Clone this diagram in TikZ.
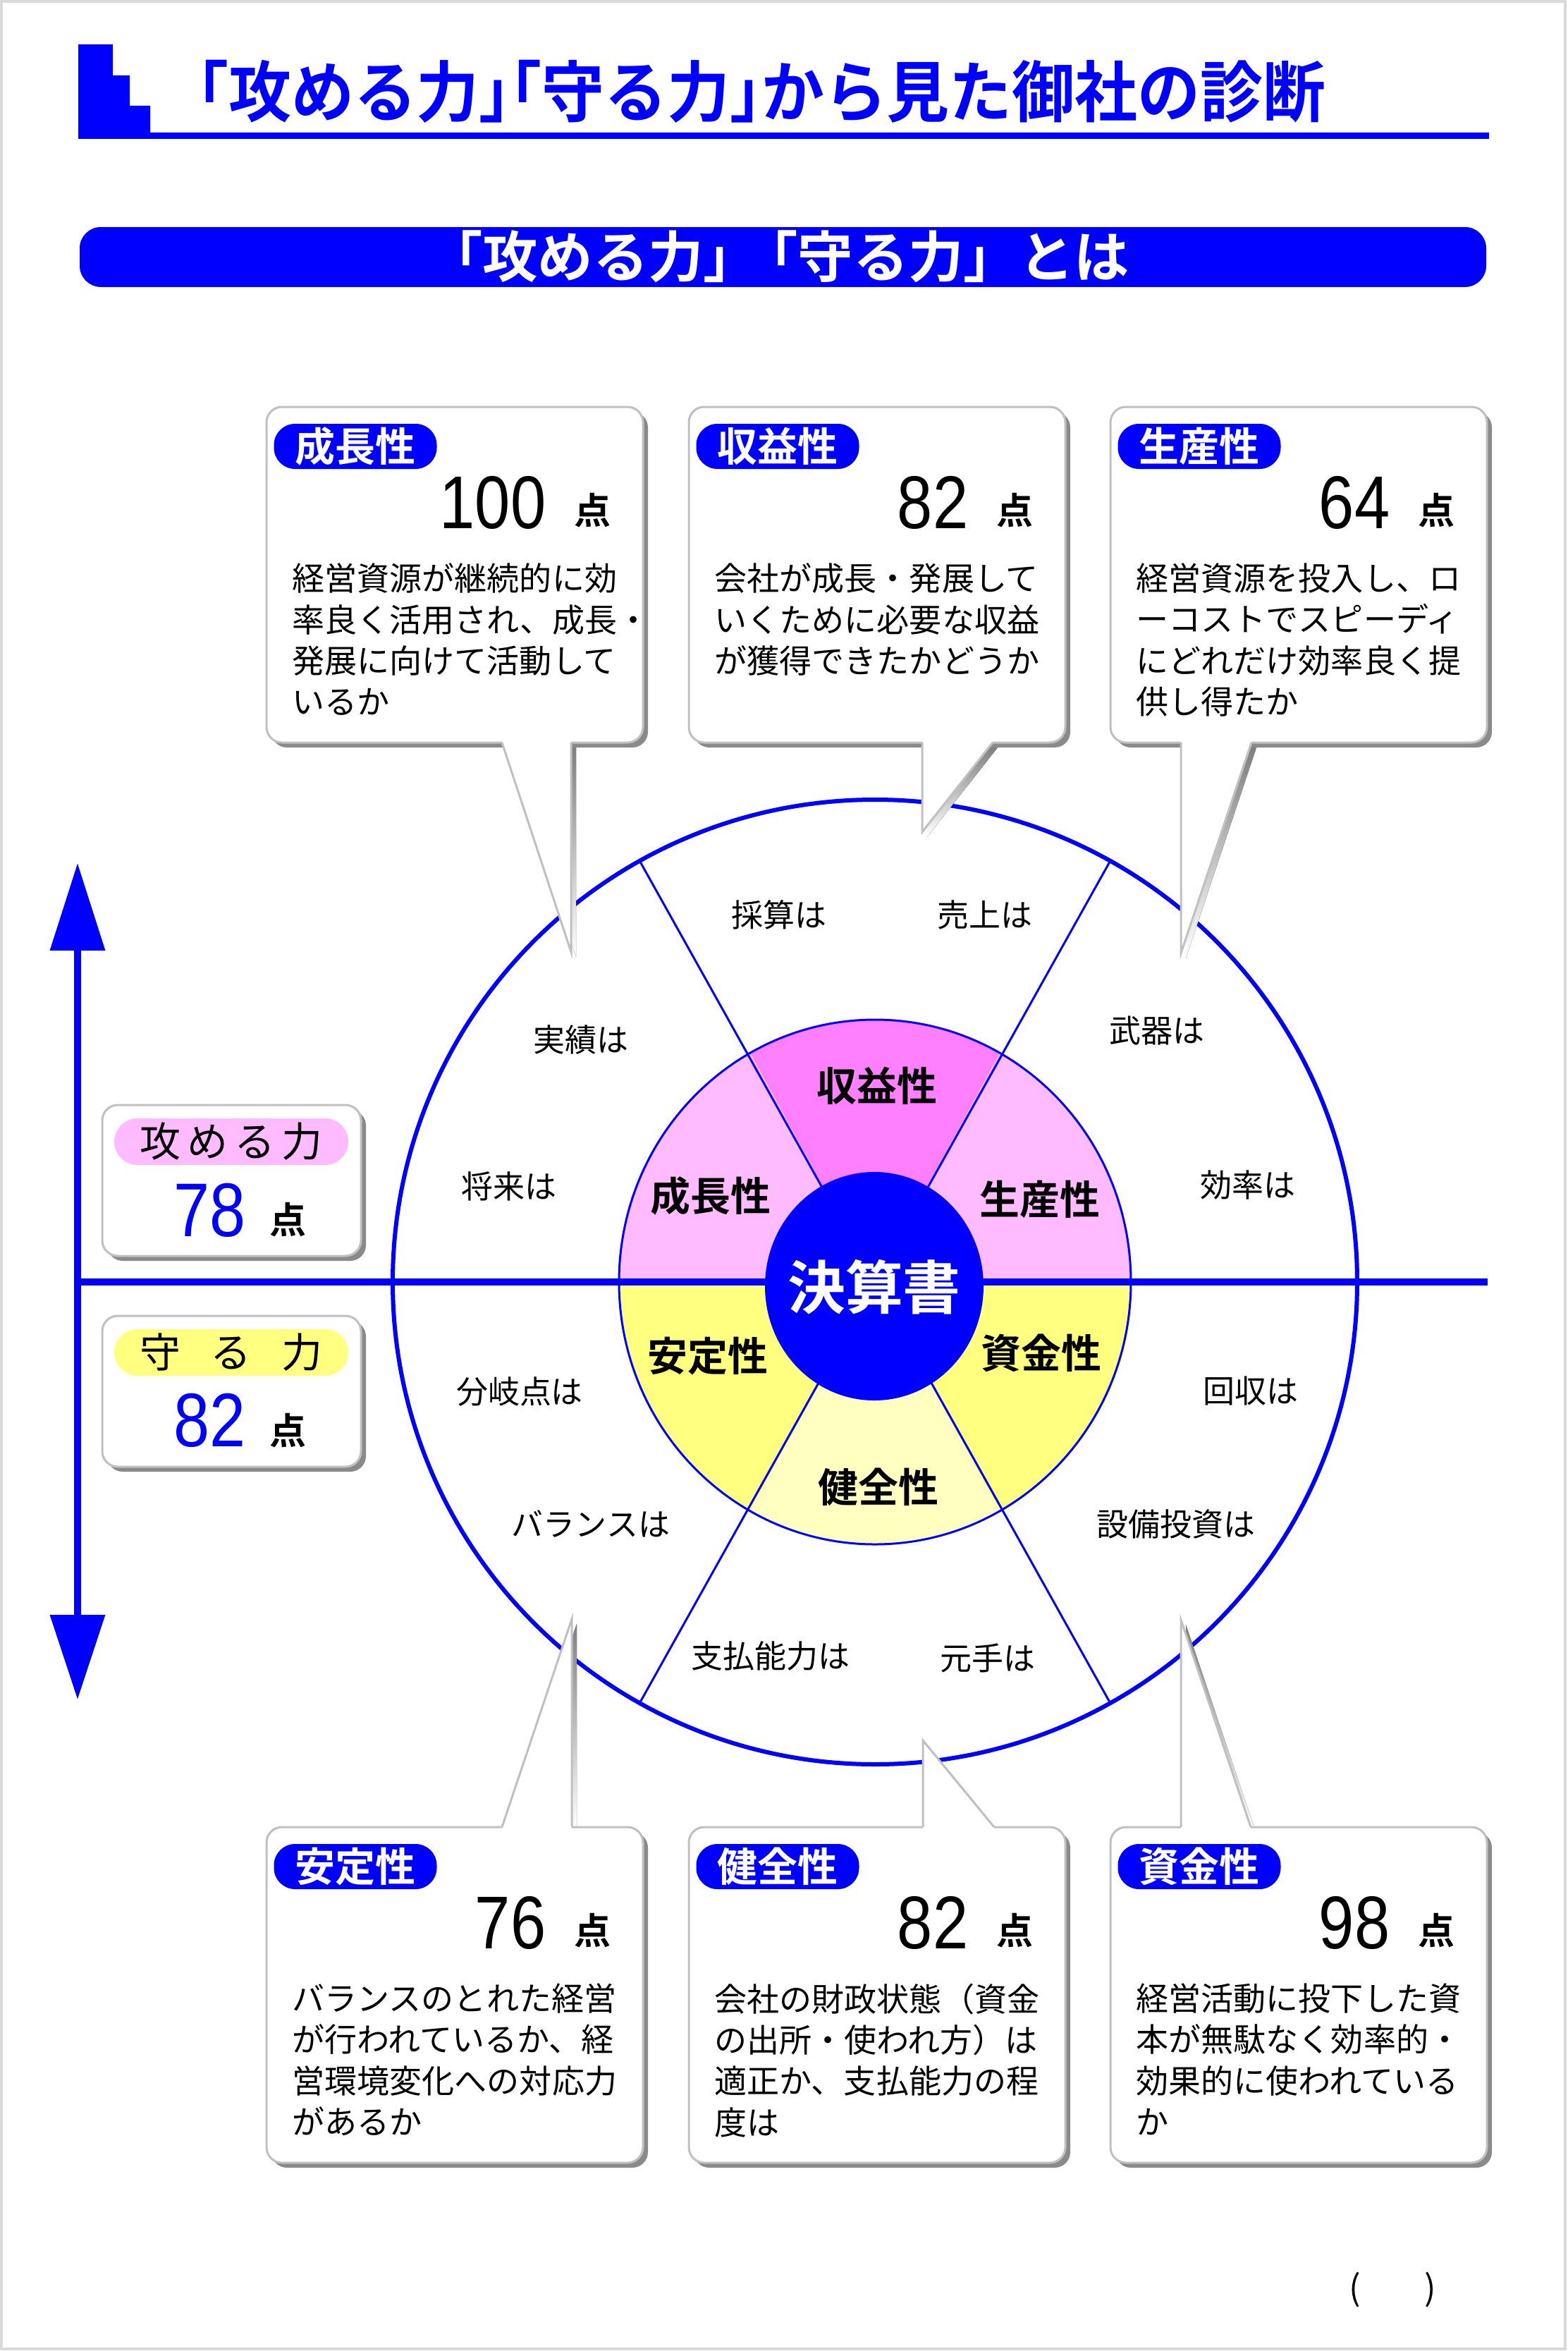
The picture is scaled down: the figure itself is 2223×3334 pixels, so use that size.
\documentclass[tikz,border=0pt]{standalone}
\usepackage{fontspec}
\usepackage{graphicx}
\setmainfont{Noto Sans CJK JP}[BoldFont={Noto Sans CJK JP Bold}]
\newfontfamily\numfont{Liberation Sans}
\usetikzlibrary{arrows.meta}
\definecolor{pureblue}{HTML}{0000FF}
\definecolor{rosepink}{HTML}{FFBBFF}
\definecolor{magentapink}{HTML}{FF80FF}
\definecolor{lemon}{HTML}{FFFF80}
\definecolor{cream}{HTML}{FFFFC0}
\definecolor{shade}{HTML}{8A8A8A}
\definecolor{rim}{HTML}{C0C0C0}
\definecolor{pageline}{HTML}{D9D9D9}
\newcommand{\fsz}[2]{\fontsize{#1pt}{#2pt}\selectfont}
\newcommand{\narrow}[1]{\scalebox{0.85}[1]{#1}}
\newcommand{\lbr}{\makebox[0.5em][r]{「}}
\newcommand{\rbr}{\makebox[0.5em][l]{」}}

\begin{document}
\begin{tikzpicture}[
    x=0.1mm, y=-0.1mm,
    ringlab/.style={font=\bfseries\fsz{16.2}{16.2}, inner sep=0pt},
    outerlab/.style={font=\fsz{12.8}{12.8}, inner sep=0pt},
    pill/.style={fill=pureblue, text=white, rounded corners=3mm, minimum width=23.1mm,
                 minimum height=6.4mm, inner sep=0pt, font=\bfseries\fsz{16.2}{16.2}},
    score/.style={font=\numfont\fsz{30.2}{30.2}, inner sep=0pt},
    unit/.style={font=\bfseries\fsz{14.8}{14.8}, inner sep=0pt},
    desc/.style={font=\fsz{13.1}{16.6}, align=left, inner sep=0pt},
    sidepill/.style={rounded corners=3.3mm, minimum width=33.2mm, minimum height=6.6mm,
                     inner sep=0pt, font=\fsz{16.5}{16.5}},
    sidenum/.style={font=\numfont\fsz{30.7}{30.7}, text=pureblue, inner sep=0pt},
    boxshade/.style={fill=shade, rounded corners=2.2mm},
    boxbody/.style={draw=rim, line width=0.3mm, fill=white, rounded corners=2.2mm},
    sector line/.style={pureblue, line width=0.3mm}]
  % page of 2223 x 3334 px, y runs downward
  \useasboundingbox (0,0) rectangle (2223,3334);
  \draw[pageline, line width=0.4mm] (2,2) rectangle (2220,3331);

  % ================= heading =================
  \fill[pureblue] (111,63) -- (160,63) -- (160,107) -- (184,107) -- (184,150) -- (213,150)
        -- (213,188) -- (2112,188) -- (2112,197) -- (111,197) -- cycle;
  \node[font=\bfseries\fsz{25.3}{25.3}, text=pureblue, inner sep=0pt] (heading) at (1080,130)
    {\scalebox{1}[1.06]{\lbr 攻める力\rbr\lbr 守る力\rbr から見た御社の診断}};
  \fill[pureblue, rounded corners=3mm] (113,322) rectangle (2108,407);
  \node[font=\bfseries\fsz{22.3}{22.3}, text=white, inner sep=0pt] (banner) at (1104,364)
    {「攻める力」\hspace{-2.3mm}「守る力」とは};

  % ================= wheel =================
  \begin{scope}[shift={(1241,1818)}, y=0.1mm]
    \foreach \s/\e/\c in {0/60.8/rosepink, 60.8/119.2/magentapink, 119.2/180/rosepink,
                          180/240.8/lemon, 240.8/299.2/cream, 299.2/360/lemon}
      \fill[\c] (0,0) -- (\s:363 and 372) arc[start angle=\s, end angle=\e, x radius=363, y radius=372] -- cycle;
    \draw[pureblue, line width=0.3mm] (0,0) ellipse[x radius=363, y radius=372];
    \foreach \a in {60.8,119.2,240.8,299.2}
      \draw[sector line] (0,0) -- (\a:684);
    \draw[pureblue, line width=0.6mm] (0,0) circle[radius=684];
  \end{scope}
  % axes
  \draw[pureblue, line width=1mm] (110,1818) -- (2110,1818);
  \draw[pureblue, line width=1mm, {Triangle[length=12.4mm,width=7.6mm]}-{Triangle[length=12mm,width=7.6mm]}]
    (110,1224) -- (110,2410);
  % centre
  \fill[pureblue] (1240,1824) ellipse[x radius=155, y radius=162];
  \node[font=\bfseries\fsz{23.3}{23.3}, text=white, inner sep=0pt] (kessan) at (1240,1825) {決算書};

  \foreach \nm/\x/\y/\t in {shueki/1244/1540/収益性, seicho/1008/1696/成長性, seisan/1475/1701/生産性,
                            antei/1004/1923/安定性, shikin/1477/1919/資金性, kenzen/1246/2109/健全性}
    \node[ringlab] (\nm) at (\x,\y) {\t};

  \foreach \nm/\x/\y/\t in {jisseki/824/1474/実績は, saisan/1105/1297/採算は, uriage/1397/1297/売上は,
                            buki/1641/1462/武器は, shorai/722/1682/将来は, koritsu/1770/1680/効率は,
                            bunki/737/1973/分岐点は, kaishu/1774/1972/回収は, balance/838/2161/バランスは,
                            setsubi/1668/2161/設備投資は, shiharai/1093/2348/支払能力は, motode/1401/2351/元手は}
    \node[outerlab] (\nm) at (\x,\y) {\t};

  % ================= callouts =================
  \foreach \nm/\L/\T/\ta/\tb/\tc/\ti/\lab/\sc/\txt in {
      growth/378/577/{712,1053}/{810,1350}/{810,1053}/-6/成長性/100/{経営資源が継続的に効\\率良く活用され、成長・\\発展に向けて活動して\\いるか},
      profit/977/577/{1308,1053}/{1308,1180}/{1408,1053}/-6/収益性/82/{会社が成長・発展して\\いくために必要な収益\\が獲得できたかどうか},
      output/1575/577/{1675,1053}/{1675,1352}/{1775,1053}/-6/生産性/64/{経営資源を投入し、ロ\\ーコストでスピーディ\\にどれだけ効率良く提\\供し得たか},
      stable/378/2591/{712,2591}/{811,2296}/{811,2591}/6/安定性/76/{バランスのとれた経営\\が行われているか、経\\営環境変化への対応力\\があるか},
      sound/977/2591/{1309,2591}/{1309,2468}/{1410,2591}/6/健全性/82/{会社の財政状態（資金\\の出所・使われ方）は\\適正か、支払能力の程\\度は},
      funds/1575/2591/{1675,2591}/{1675,2297}/{1774,2591}/6/資金性/98/{経営活動に投下した資\\本が無駄なく効率的・\\効果的に使われている\\か}}
  {
    \fill[shade, shift={(7,7)}] (\ta) -- (\tb) -- (\tc) -- cycle;
    \fill[boxshade] (\L+7,\T+7) rectangle ++(534,476);
    \draw[boxbody] (\L,\T) rectangle ++(534,476);
    \fill[white] (\ta) ++(0,\ti) -- (\ta) -- (\tb) -- (\tc) -- ++(0,\ti) -- cycle;
    \draw[rim, line width=0.3mm] (\ta) -- (\tb) -- (\tc);
    \node[pill] (pill-\nm) at (\L+126,\T+56) {\lab};
    \node[score, anchor=base east] (score-\nm) at (\L+397,\T+172) {\narrow{\sc}};
    \node[unit, anchor=base] (unit-\nm) at (\L+462,\T+166) {点};
    \node[desc, anchor=north west] (desc-\nm) at (\L+36,\T+221) {\txt};
  }

  % ================= totals =================
  \fill[boxshade] (152,1574) rectangle (519,1788);
  \draw[boxbody] (145,1567) rectangle (512,1781);
  \node[sidepill, fill=rosepink] (attackpill) at (328,1619) {攻\hspace{0.9mm}め\hspace{0.9mm}る\hspace{0.9mm}力};
  \node[sidenum, anchor=base west] (attackscore) at (246,1753) {\narrow{78}};
  \node[unit, anchor=base] (attackunit) at (409,1749) {点};

  \fill[boxshade] (152,1873) rectangle (519,2087);
  \draw[boxbody] (145,1866) rectangle (512,2080);
  \node[sidepill, fill=lemon] (defendpill) at (328,1918) {守\hspace{4.3mm}る\hspace{4.3mm}力};
  \node[sidenum, anchor=base west] (defendscore) at (246,2051) {\narrow{82}};
  \node[unit, anchor=base] (defendunit) at (409,2048) {点};

  % page mark
  \node[font=\fsz{14}{14}, inner sep=0pt] (pagemark) at (1975,3247) {(\hspace{9mm})};
\end{tikzpicture}
\end{document}
